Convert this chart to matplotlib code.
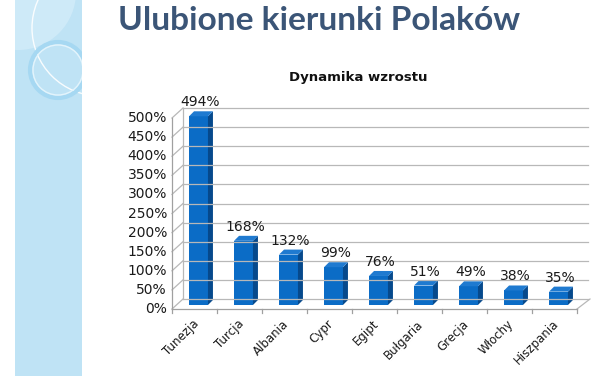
import matplotlib
matplotlib.use("Agg")
import matplotlib.pyplot as plt
from matplotlib.patches import Rectangle, Polygon, Circle
from matplotlib.transforms import ScaledTranslation

categories = ["Tunezja", "Turcja", "Albania", "Cypr", "Egipt", "Bułgaria", "Grecja", "Włochy", "Hiszpania"]
values = [494, 168, 132, 99, 76, 51, 49, 38, 35]
yticks = [0, 50, 100, 150, 200, 250, 300, 350, 400, 450, 500]
ytick_labels = [f"{t}%" for t in yticks]

W, H, DPI = 600, 376, 100
fig = plt.figure(figsize=(W / DPI, H / DPI), dpi=DPI)
fig.patch.set_facecolor("white")

# ---- decorative left strip ----
bg = fig.add_axes([0, 0, 1, 1])
bg.set_xlim(0, W)
bg.set_ylim(H, 0)
bg.axis("off")
strip = Rectangle((15, 0), 67, H, facecolor="#bfe3f5", edgecolor="none")
bg.add_patch(strip)
for c in [Circle((18, -8), 58, facecolor="#d3ecf9", edgecolor="none", alpha=0.8),
          Circle((100, 28), 68, facecolor="none", edgecolor="white", lw=1.0, alpha=0.9),
          Circle((58, 70), 28, facecolor="none", edgecolor="#a6d8f2", lw=3.0),
          Circle((58, 70), 25, facecolor="none", edgecolor="#e3f4fc", lw=1.0)]:
    bg.add_patch(c)
    c.set_clip_path(strip)

title = fig.text(118 / W, 1 - 21 / H, "Ulubione kierunki Polaków", fontsize=20, fontweight="bold",
                 color="#3b5577", family="Lato", ha="left", va="center")
fig.canvas.draw()
wpx = title.get_window_extent().width
title.set_fontsize(20 * 402 / wpx)

fig.text(358 / W, 1 - 78 / H, "Dynamika wzrostu", fontsize=9.5, fontweight="bold",
         color="#111111", family="DejaVu Sans", ha="center", va="center")

# ---- chart axes ----
x0, x1, yb, yt = 172, 577, 309, 118
ax = fig.add_axes([x0 / W, 1 - yb / H, (x1 - x0) / W, (yb - yt) / H])
n = len(categories)
ax.set_xlim(0, n)
ax.set_ylim(0, 500)
ax.axis("off")

def shift(dx, dy):
    return ax.transData + ScaledTranslation(dx / DPI, dy / DPI, fig.dpi_scale_trans)

grid_c = "#b8b8b8"
back = shift(11, 10)
for t in yticks:
    ax.plot([0, n], [t, t], color=grid_c, lw=0.9, transform=back, clip_on=False)
    xd = ax.transData.transform([(0, t)])[0]
    py = H - xd[1]
    bg.plot([x0, x0 + 11], [py, py - 10], color=grid_c, lw=0.9)
ax.plot([0, 0], [0, 500], color=grid_c, lw=0.9, transform=back, clip_on=False)
ax.plot([0, 0], [0, 500], color="#a0a0a0", lw=0.9, clip_on=False)
ax.plot([0, n], [0, 0], color="#a0a0a0", lw=0.9, clip_on=False)
bg.plot([x1, x1 + 13], [yb, yb - 10], color=grid_c, lw=0.9)
for i in range(n + 1):
    px = ax.transData.transform([(i, 0)])[0][0]
    bg.plot([px, px], [yb, yb + 4], color="#a0a0a0", lw=0.9)

for t, lab in zip(yticks, ytick_labels):
    ax.text(0, t, lab, transform=shift(-5, 0), ha="right", va="center",
            fontsize=10, color="#1a1a1a")

front_t = shift(4, 4)
bw = 0.42
ddx = 5 * n / (x1 - x0)
ddy = 5 * 500 / (yb - yt)
xs = [i + 0.5 for i in range(n)]
ax.bar(xs, values, width=bw, color="#0b6cc6", edgecolor="none", transform=front_t, clip_on=False)
for x, v in zip(xs, values):
    xl, xr = x - bw / 2, x + bw / 2
    side = Polygon([(xr, 0), (xr + ddx, ddy), (xr + ddx, v + ddy), (xr, v)],
                   closed=True, facecolor="#06498c", edgecolor="none", transform=front_t, clip_on=False)
    top = Polygon([(xl, v), (xr, v), (xr + ddx, v + ddy), (xl + ddx, v + ddy)],
                  closed=True, facecolor="#1f7ad0", edgecolor="none", transform=front_t, clip_on=False)
    ax.add_patch(side)
    ax.add_patch(top)
    ax.text(x, v, f"{v}%", transform=shift(6, 11), ha="center", va="bottom",
            fontsize=10, color="#1a1a1a", clip_on=False)

for x, c in zip(xs, categories):
    ax.text(x, 0, c, transform=shift(2, -13), rotation=45, rotation_mode="anchor",
            ha="right", va="center", fontsize=8.5, color="#1a1a1a")

fig.savefig("out.png", dpi=DPI)
